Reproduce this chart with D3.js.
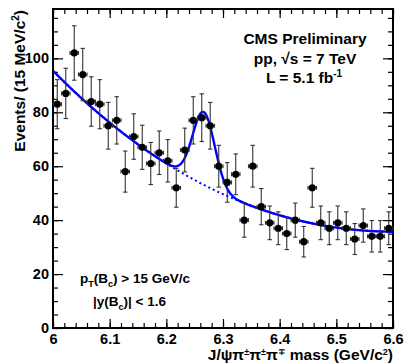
<!DOCTYPE html>
<html>
<head>
<meta charset="utf-8">
<script src="https://cdn.jsdelivr.net/npm/d3@7"></script>
<style>
body { margin: 0; background: #fff; }
text { font-family: "Liberation Sans", Arial, Helvetica, sans-serif; font-weight: bold; fill: #000; }
</style>
</head>
<body>
<svg id="chart"></svg>
<script>
// 15 MeV/c2 bins from 6.0 to 6.6 GeV/c2
var binLow = 6.0,
    binWidth = 0.015;
var counts = [83, 87, 102, 94, 84, 83, 75, 77, 58, 71,
              67, 61, 65, 62, 52, 66, 77, 78, 75, 60,
              54, 57, 40, 60, 45, 39, 37, 35, 40, 32,
              52, 39, 37, 39, 37, 33, 38, 34, 34, 37];
var xTicks = [6, 6.1, 6.2, 6.3, 6.4, 6.5, 6.6];
var yTicks = [0, 20, 40, 60, 80, 100];

// fit result: polynomial background (in m - 6.0) + gaussian signal
var bkgCoef = [95.4, -213.5, 216.25, -43.75];
var sigMean = 6.266,
    sigWidth = 0.0195,
    sigAmp = 27;

var svg = d3.select("#chart"),
    margin = {top: 9, right: 12, bottom: 36, left: 53},
    W = 405, H = 364,
    width = W - margin.left - margin.right,
    height = H - margin.top - margin.bottom;

svg.attr("width", W).attr("height", H);

var g = svg.append("g").attr("transform", "translate(" + margin.left + "," + margin.top + ")");

var x = d3.scaleLinear().domain([6.0, 6.6]).range([0, width]),
    y = d3.scaleLinear().domain([0, 118.3]).range([height, 0]);

g.append("defs").append("clipPath")
    .attr("id", "clip")
    .append("rect")
    .attr("width", width)
    .attr("height", height);

// minor tick positions
var xMinor = d3.range(0, 31).map(function (i) { return 6 + i * 0.02; });
var yMinor = d3.range(0, 24).map(function (i) { return i * 5; });

function styleAxis(sel) {
    sel.select(".domain").remove();
    sel.selectAll("line").attr("stroke", "#000").attr("stroke-width", 1.2);
    sel.selectAll("text").style("font-size", "14.5px").style("font-weight", "bold");
}

// minor ticks on all four sides
g.append("g").attr("transform", "translate(0," + height + ")")
    .call(d3.axisBottom(x).tickValues(xMinor).tickSize(-5).tickFormat("")).call(styleAxis);
g.append("g")
    .call(d3.axisTop(x).tickValues(xMinor).tickSize(-5).tickFormat("")).call(styleAxis);
g.append("g")
    .call(d3.axisLeft(y).tickValues(yMinor).tickSize(-5).tickFormat("")).call(styleAxis);
g.append("g").attr("transform", "translate(" + width + ",0)")
    .call(d3.axisRight(y).tickValues(yMinor).tickSize(-5).tickFormat("")).call(styleAxis);

// major ticks + labels
g.append("g").attr("transform", "translate(0," + height + ")")
    .call(d3.axisBottom(x).tickValues(xTicks).tickSize(-9).tickPadding(6).tickFormat(d3.format("~g")))
    .call(styleAxis);
g.append("g")
    .call(d3.axisTop(x).tickValues(xTicks).tickSize(-9).tickFormat("")).call(styleAxis);
g.append("g")
    .call(d3.axisLeft(y).tickValues(yTicks).tickSize(-10).tickPadding(4).tickFormat(d3.format("d")))
    .call(styleAxis);
g.append("g").attr("transform", "translate(" + width + ",0)")
    .call(d3.axisRight(y).tickValues(yTicks).tickSize(-10).tickFormat("")).call(styleAxis);

// frame
g.append("rect")
    .attr("width", width)
    .attr("height", height)
    .attr("fill", "none")
    .attr("stroke", "#000")
    .attr("stroke-width", 2);

// fit curves
function bkg(m) {
    var t = m - 6.0;
    return bkgCoef[0] + bkgCoef[1] * t + bkgCoef[2] * t * t + bkgCoef[3] * t * t * t;
}
function total(m) {
    var d = (m - sigMean) / sigWidth;
    return bkg(m) + sigAmp * Math.exp(-0.5 * d * d);
}
var grid = d3.range(0, 601).map(function (i) { return 6.0 + i * 0.001; });

var fitG = g.append("g").attr("clip-path", "url(#clip)");
var bkgLine = d3.line().x(function (m) { return x(m); }).y(function (m) { return y(bkg(m)); });
var totLine = d3.line().x(function (m) { return x(m); }).y(function (m) { return y(total(m)); });

fitG.append("path")
    .attr("d", bkgLine(grid))
    .attr("fill", "none")
    .attr("stroke", "#0000ff")
    .attr("stroke-width", 2)
    .attr("stroke-dasharray", "2,3");
fitG.append("path")
    .attr("d", totLine(grid))
    .attr("fill", "none")
    .attr("stroke", "#0000ff")
    .attr("stroke-width", 2.4);

// data points with errors
var pts = counts.map(function (n, i) {
    return {m: binLow + (i + 0.5) * binWidth, n: n, e: Math.sqrt(n)};
});
var hw = x(binLow + binWidth / 2) - x(binLow);

var pg = g.append("g").selectAll("g").data(pts).enter().append("g")
    .attr("transform", function (d) { return "translate(" + x(d.m) + "," + y(d.n) + ")"; });

pg.append("line")
    .attr("x1", 0).attr("x2", 0)
    .attr("y1", function (d) { return y(d.n + d.e) - y(d.n); })
    .attr("y2", function (d) { return y(d.n - d.e) - y(d.n); });
pg.append("line")
    .attr("x1", -2.2).attr("x2", 2.2)
    .attr("y1", function (d) { return y(d.n + d.e) - y(d.n); })
    .attr("y2", function (d) { return y(d.n + d.e) - y(d.n); });
pg.append("line")
    .attr("x1", -2.2).attr("x2", 2.2)
    .attr("y1", function (d) { return y(d.n - d.e) - y(d.n); })
    .attr("y2", function (d) { return y(d.n - d.e) - y(d.n); });
pg.append("line").attr("x1", -hw).attr("x2", hw).attr("y1", 0).attr("y2", 0);
pg.append("line").attr("x1", -hw).attr("x2", -hw).attr("y1", -2).attr("y2", 2);
pg.append("line").attr("x1", hw).attr("x2", hw).attr("y1", -2).attr("y2", 2);
pg.selectAll("line").attr("stroke", "#333").attr("stroke-width", 1.1);
pg.append("circle").attr("r", 3.6).attr("fill", "#000");

// axis titles
svg.append("text")
    .attr("transform", "translate(25,10) rotate(-90)")
    .attr("text-anchor", "end")
    .style("font-size", "15.5px")
    .html('Events/ (15 MeV/c<tspan dy="-6" font-size="10">2</tspan><tspan dy="6">)</tspan>');

svg.append("text")
    .attr("x", 393).attr("y", 360)
    .attr("text-anchor", "end")
    .style("font-size", "15.5px")
    .html('J/ψπ<tspan dy="-5" font-size="9">±</tspan><tspan dy="5">π</tspan><tspan dy="-5" font-size="9">±</tspan><tspan dy="5">π</tspan><tspan dy="-5" font-size="9" style="font-family: \'DejaVu Sans\'">∓</tspan><tspan dy="5"> mass (GeV/c</tspan><tspan dy="-5" font-size="9">2</tspan><tspan dy="5">)</tspan>');

// CMS labels
var info = svg.append("g").attr("text-anchor", "middle").style("font-size", "15.5px");
info.append("text").attr("x", 305).attr("y", 44).text("CMS Preliminary");
info.append("text").attr("x", 305).attr("y", 64).text("pp, √s = 7 TeV");
info.append("text").attr("x", 304).attr("y", 83)
    .html('L = 5.1 fb<tspan dy="-6" font-size="10">-1</tspan>');

// selection cuts
var cuts = svg.append("g").style("font-size", "13.5px");
cuts.append("text").attr("x", 80).attr("y", 283)
    .html('p<tspan dy="4" font-size="9">T</tspan><tspan dy="-4">(B</tspan><tspan dy="4" font-size="9">c</tspan><tspan dy="-4">) &gt; 15 GeV/c</tspan>');
cuts.append("text").attr("x", 93).attr("y", 306)
    .html('|y(B<tspan dy="4" font-size="9">c</tspan><tspan dy="-4">)| &lt; 1.6</tspan>');
</script>
</body>
</html>
